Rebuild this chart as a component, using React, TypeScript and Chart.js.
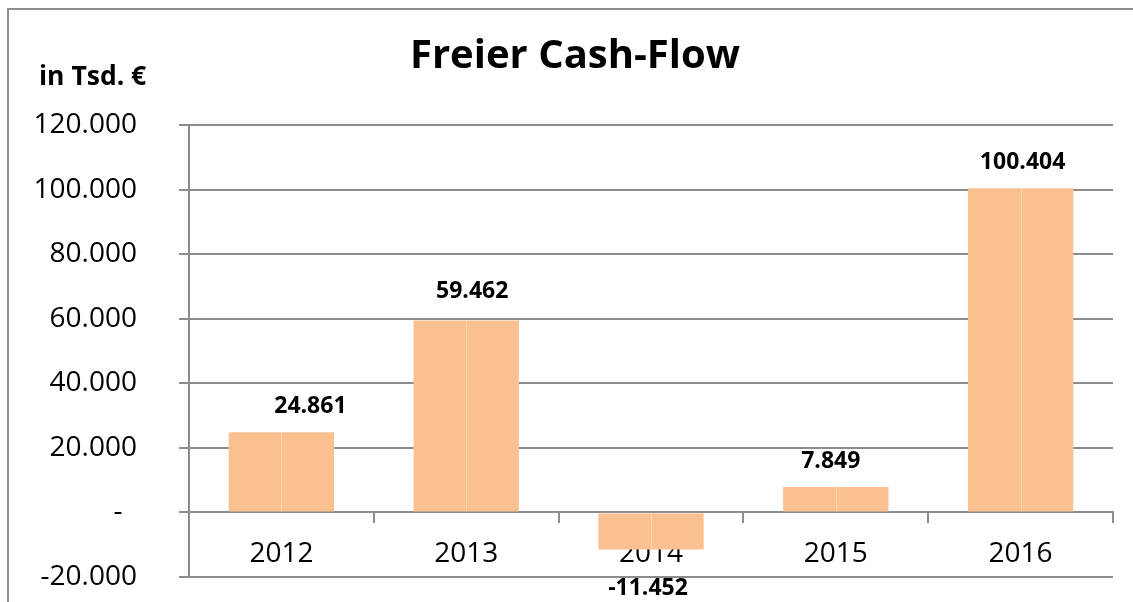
import React, { useEffect, useRef } from "react";
import { Chart, registerables } from "chart.js";

Chart.register(...registerables);

const categories = ["2012", "2013", "2014", "2015", "2016"];
const freeCashFlow = [24861, 59462, -11452, 7849, 100404];
const yTickValues = [-20000, 0, 20000, 40000, 60000, 80000, 100000, 120000];
const titleText = "Freier Cash-Flow";
const unitText = "in Tsd. €";
const labelOffsetX = [29, 6, -3, -5, 2];
const labelOffsetY = [0, -3, 0, 0, 0];

const FONT = '"Open Sans", "DejaVu Sans", sans-serif';
const GRID = "#8c8c8c";

function formatDe(v: number): string {
  if (v === 0) return "-  ";
  const s = Math.abs(v)
    .toString()
    .replace(/\B(?=(\d{3})+(?!\d))/g, ".");
  return (v < 0 ? "-" : "") + s;
}

const decorPlugin = {
  id: "decor",
  beforeDraw(chart: any) {
    const ctx = chart.ctx;
    ctx.save();
    ctx.fillStyle = "#fff";
    ctx.fillRect(0, 0, chart.width, chart.height);
    ctx.strokeStyle = GRID;
    ctx.lineWidth = 2;
    ctx.beginPath();
    ctx.moveTo(8, chart.height);
    ctx.lineTo(8, 9);
    ctx.lineTo(chart.width, 9);
    ctx.stroke();
    ctx.fillStyle = "#000";
    ctx.textBaseline = "middle";
    ctx.textAlign = "center";
    ctx.font = `bold 40px ${FONT}`;
    ctx.fillText(titleText, 575, 57);
    ctx.textAlign = "left";
    ctx.font = `bold 26.5px ${FONT}`;
    ctx.fillText(unitText, 39, 77);
    ctx.restore();
  },
  afterDatasetsDraw(chart: any) {
    const ctx = chart.ctx;
    const meta = chart.getDatasetMeta(0);
    ctx.save();
    meta.data.forEach((bar: any, i: number) => {
      const { x, y, base } = bar.getProps(["x", "y", "base"], true);
      const top = Math.min(y, base);
      const bottom = Math.max(y, base);
      ctx.strokeStyle = "rgba(255,255,255,0.35)";
      ctx.lineWidth = 1;
      ctx.beginPath();
      ctx.moveTo(Math.round(x) + 0.5, top);
      ctx.lineTo(Math.round(x) + 0.5, bottom);
      ctx.stroke();
      const v = freeCashFlow[i];
      const ly = v >= 0 ? top - 26 : bottom + 39;
      ctx.fillStyle = "#000";
      ctx.font = `bold 23px ${FONT}`;
      ctx.textAlign = "center";
      ctx.textBaseline = "middle";
      ctx.fillText(formatDe(v), x + labelOffsetX[i], ly + labelOffsetY[i]);
    });
    ctx.restore();
  },
};

export default function App() {
  const ref = useRef<HTMLCanvasElement | null>(null);

  useEffect(() => {
    if (!ref.current) return;
    const chart = new Chart(ref.current, {
      type: "bar",
      data: {
        labels: categories,
        datasets: [
          {
            label: titleText,
            data: freeCashFlow,
            backgroundColor: "#FAC090",
            borderWidth: 0,
            barPercentage: 0.57,
            categoryPercentage: 1,
          },
        ],
      },
      options: {
        animation: false,
        responsive: false,
        devicePixelRatio: 1,
        layout: { padding: { left: 0, top: 125, right: 20, bottom: 25 } },
        plugins: {
          legend: { display: false },
          tooltip: { enabled: false },
          title: { display: false },
        },
        scales: {
          x: {
            position: { y: 0 } as any,
            z: 1,
            afterFit: (s: any) => {
              s.height = 0;
              s.paddingTop = 0;
              s.paddingBottom = 0;
            },
            grid: {
              offset: true,
              drawOnChartArea: false,
              drawTicks: true,
              tickLength: 10,
              color: GRID,
              lineWidth: 2,
            },
            border: { display: true, color: GRID, width: 2 },
            ticks: {
              font: { family: FONT, size: 28 },
              color: "#000",
              padding: 15,
              maxRotation: 0,
              autoSkip: false,
            },
          },
          y: {
            min: -20000,
            max: 120000,
            afterBuildTicks: (s: any) => {
              s.ticks = yTickValues.map((v) => ({ value: v }));
            },
            afterFit: (s: any) => {
              s.width = 189;
              s.paddingTop = 0;
              s.paddingBottom = 0;
            },
            ticks: {
              callback: (v: any) => formatDe(Number(v)),
              font: { family: FONT, size: 28 },
              color: "#000",
              padding: 42,
            },
            grid: {
              color: GRID,
              lineWidth: 2,
              tickLength: 10,
              drawTicks: true,
            },
            border: { display: true, color: GRID, width: 2 },
          },
        },
      },
      plugins: [decorPlugin],
    });
    return () => chart.destroy();
  }, []);

  return (
    <div
      style={{
        position: "fixed",
        left: 0,
        top: 0,
        width: 1133,
        height: 602,
        background: "#fff",
      }}
    >
      <canvas ref={ref} width={1133} height={602} />
    </div>
  );
}
